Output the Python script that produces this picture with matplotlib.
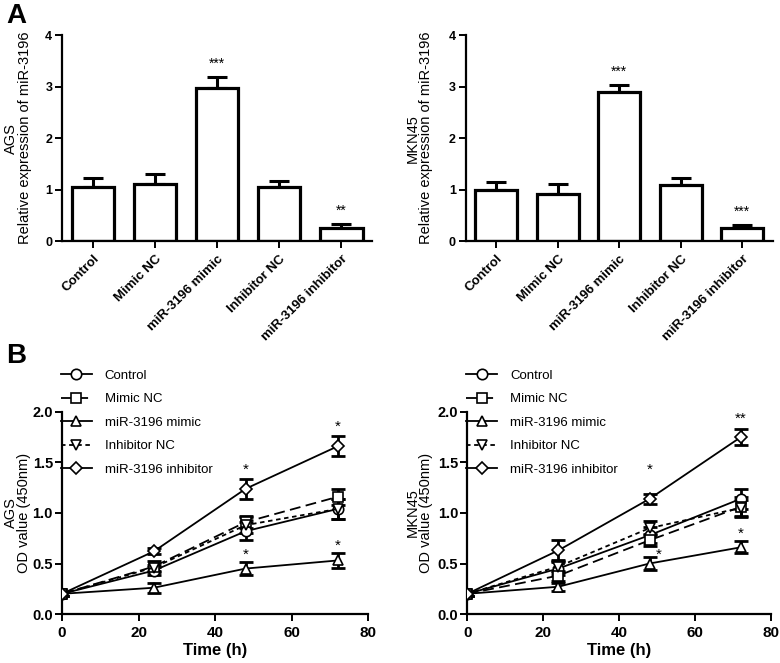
import numpy as np
import matplotlib
matplotlib.use("Agg")
import matplotlib.pyplot as plt

plt.rcParams['font.family'] = ['Liberation Sans', 'DejaVu Sans']

# -----------------------------
# DATA
# -----------------------------
groups = ["Control", "Mimic NC", "miR-3196 mimic", "Inhibitor NC", "miR-3196 inhibitor"]

ags_expr = [1.05, 1.10, 2.97, 1.05, 0.25]
ags_expr_err = [0.17, 0.21, 0.21, 0.12, 0.08]
ags_expr_sig = ["", "", "***", "", "**"]

mkn_expr = [0.99, 0.91, 2.90, 1.09, 0.25]
mkn_expr_err = [0.15, 0.20, 0.13, 0.13, 0.07]
mkn_expr_sig = ["", "", "***", "", "***"]

time_h = [0, 24, 48, 72]

ags_od = {
    "Control": [0.20, 0.43, 0.82, 1.04],
    "Mimic NC": [0.20, 0.47, 0.91, 1.16],
    "miR-3196 mimic": [0.20, 0.26, 0.45, 0.53],
    "Inhibitor NC": [0.20, 0.46, 0.88, 1.04],
    "miR-3196 inhibitor": [0.20, 0.62, 1.24, 1.66],
}
ags_od_err = {
    "Control": [0.02, 0.04, 0.09, 0.10],
    "Mimic NC": [0.02, 0.05, 0.06, 0.08],
    "miR-3196 mimic": [0.02, 0.05, 0.06, 0.07],
    "Inhibitor NC": [0.02, 0.03, 0.08, 0.10],
    "miR-3196 inhibitor": [0.02, 0.03, 0.10, 0.10],
}

mkn_od = {
    "Control": [0.20, 0.45, 0.78, 1.14],
    "Mimic NC": [0.20, 0.38, 0.73, 1.06],
    "miR-3196 mimic": [0.20, 0.27, 0.50, 0.66],
    "Inhibitor NC": [0.20, 0.47, 0.85, 1.05],
    "miR-3196 inhibitor": [0.20, 0.63, 1.14, 1.75],
}
mkn_od_err = {
    "Control": [0.02, 0.06, 0.08, 0.10],
    "Mimic NC": [0.02, 0.05, 0.06, 0.10],
    "miR-3196 mimic": [0.02, 0.04, 0.06, 0.06],
    "Inhibitor NC": [0.02, 0.05, 0.07, 0.08],
    "miR-3196 inhibitor": [0.02, 0.10, 0.05, 0.08],
}

# significance marks on the time course: (time, value, text)
ags_od_sig = [(48, 1.36, "*"), (72, 1.78, "*"), (48, 0.52, "*"), (72, 0.61, "*")]
mkn_od_sig = [(48, 1.36, "*"), (72, 1.86, "**"), (50.5, 0.52, "*"), (72, 0.72, "*")]

# -----------------------------
# STYLES
# -----------------------------
line_styles = {
    "Control": ("o", "-"),
    "Mimic NC": ("s", (0, (6, 3))),
    "miR-3196 mimic": ("^", "-"),
    "Inhibitor NC": ("v", (0, (2.5, 2))),
    "miR-3196 inhibitor": ("D", "-"),
}
marker_size = {"o": 7.5, "s": 6.5, "^": 7.5, "v": 7.5, "D": 6.0}

fig = plt.figure(figsize=(7.8, 6.63), dpi=100)


def style_axes(ax):
    for side in ["top", "right"]:
        ax.spines[side].set_visible(False)
    for side in ["left", "bottom"]:
        ax.spines[side].set_linewidth(1.6)
    ax.tick_params(width=1.4, length=5, direction="out")


# -----------------------------
# BAR PANELS
# -----------------------------
def bar_panel(rect, vals, errs, sigs, cell, label_x):
    ax = fig.add_axes(rect)
    x = np.arange(len(groups))
    ax.bar(x, vals, width=0.68, color="white", edgecolor="black", linewidth=2.3, zorder=2)
    ax.errorbar(x, vals, yerr=[np.zeros(len(errs)), errs], fmt="none",
                ecolor="black", elinewidth=2.2, capsize=7, capthick=2.2, zorder=1)
    for xi, v, e, s in zip(x, vals, errs, sigs):
        if s:
            ax.text(xi, v + e + 0.12, s, ha="center", va="bottom", fontsize=10)
    ax.set_xlim(-0.5, len(groups) - 0.5)
    ax.set_ylim(0, 4)
    ax.set_yticks([0, 1, 2, 3, 4])
    ax.set_xticks(x)
    ax.set_xticklabels(groups, rotation=45, ha="right", rotation_mode="anchor",
                       fontsize=9.5, fontweight="bold")
    for lab in ax.get_yticklabels():
        lab.set_fontweight("bold")
        lab.set_fontsize(9)
    style_axes(ax)
    ax.tick_params(axis="y", pad=2)
    ax.set_ylabel(cell + "\nRelative expression of miR-3196", fontsize=10.5,
                  linespacing=0.95)
    ax.yaxis.set_label_coords(label_x, 0.5)
    return ax


axA1 = bar_panel([0.0795, 0.6365, 0.398, 0.3105], ags_expr, ags_expr_err, ags_expr_sig,
                 "AGS", -0.097)
axA2 = bar_panel([0.597, 0.6365, 0.394, 0.3105], mkn_expr, mkn_expr_err, mkn_expr_sig,
                 "MKN45", -0.107)


# -----------------------------
# GROWTH CURVE PANELS
# -----------------------------
def line_panel(rect, od, od_err, sigs, cell, label_x):
    ax = fig.add_axes(rect)
    for g in groups:
        m, ls = line_styles[g]
        ax.errorbar(time_h, od[g], yerr=od_err[g], fmt="none", ecolor="black",
                    elinewidth=2.0, capsize=5, capthick=2.0, zorder=2)
        ax.plot(time_h, od[g], linestyle=ls, color="black", linewidth=1.3,
                marker=m, markersize=marker_size[m], markerfacecolor="white",
                markeredgecolor="black", markeredgewidth=1.2, label=g, zorder=3)
    for t, v, s in sigs:
        ax.text(t, v, s, ha="center", va="bottom", fontsize=11)
    ax.set_xlim(0, 80)
    ax.set_ylim(0, 2.0)
    ax.set_xticks([0, 20, 40, 60, 80])
    ax.set_yticks([0.0, 0.5, 1.0, 1.5, 2.0])
    ax.set_yticklabels(["0.0", "0.5", "1.0", "1.5", "2.0"])
    for lab in ax.get_xticklabels() + ax.get_yticklabels():
        lab.set_fontweight("bold")
        lab.set_fontsize(11)
    for lab in ax.get_yticklabels():
        lab.set_fontsize(10.5)
    style_axes(ax)
    ax.tick_params(axis="y", pad=1.5)
    ax.set_xlabel("Time (h)", fontsize=12, fontweight="bold", labelpad=2)
    ax.set_ylabel(cell + "\nOD value (450nm)", fontsize=10.5, linespacing=0.95)
    ax.yaxis.set_label_coords(label_x, 0.5)
    ax.legend(loc="upper left", bbox_to_anchor=(-0.02, 1.235), frameon=False,
              fontsize=9.5, handlelength=2.3, labelspacing=0.85, handletextpad=1.0,
              borderaxespad=0)
    return ax


axB1 = line_panel([0.0795, 0.0739, 0.3925, 0.3047], ags_od, ags_od_err, ags_od_sig,
                  "AGS", -0.1)
axB2 = line_panel([0.599, 0.0739, 0.3895, 0.3047], mkn_od, mkn_od_err, mkn_od_sig,
                  "MKN45", -0.112)

# -----------------------------
# PANEL LETTERS
# -----------------------------
fig.text(0.008, 0.995, "A", fontsize=20, fontweight="bold", va="top", ha="left")
fig.text(0.008, 0.483, "B", fontsize=20, fontweight="bold", va="top", ha="left")

fig.savefig("out.png", dpi=100)
